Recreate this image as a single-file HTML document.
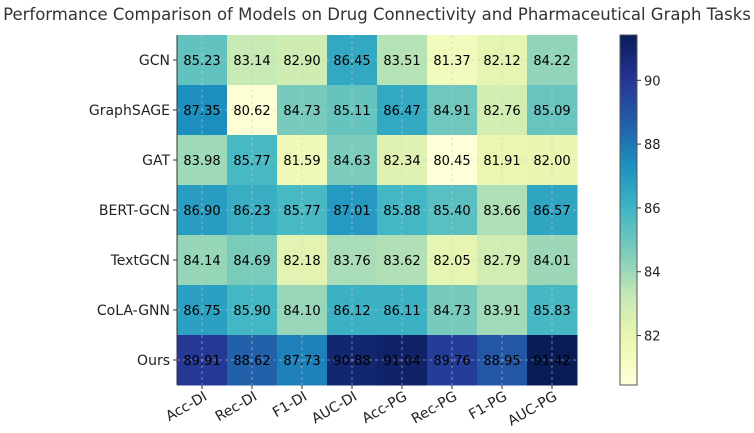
<!DOCTYPE html>
<html><head><meta charset="utf-8"><style>
body{margin:0;background:#fff;}
svg text{font-family:"DejaVu Sans","Liberation Sans",sans-serif;}
</style></head><body>
<svg id="chart" width="754" height="428" viewBox="0 0 754 428" xmlns="http://www.w3.org/2000/svg">
<defs><linearGradient id="cbg" x1="0" y1="1" x2="0" y2="0">
<stop offset="0" stop-color="#ffffd9"/><stop offset="0.125" stop-color="#edf8b1"/><stop offset="0.25" stop-color="#c7e9b4"/><stop offset="0.375" stop-color="#7fcdbb"/><stop offset="0.5" stop-color="#41b6c4"/><stop offset="0.625" stop-color="#1d91c0"/><stop offset="0.75" stop-color="#225ea8"/><stop offset="0.875" stop-color="#253494"/><stop offset="1" stop-color="#081d58"/>
</linearGradient></defs>
<text x="377" y="20" text-anchor="middle" font-size="16.5" fill="#333">Performance Comparison of Models on Drug Connectivity and Pharmaceutical Graph Tasks</text>
<g id="cells"></g><g id="grid"></g><g id="labels"></g><g id="cbar"></g>
</svg>
<script>
const models=["GCN","GraphSAGE","GAT","BERT-GCN","TextGCN","CoLA-GNN","Ours"];
const metrics=["Acc-DI","Rec-DI","F1-DI","AUC-DI","Acc-PG","Rec-PG","F1-PG","AUC-PG"];
const rowGCN=[85.23,83.14,82.90,86.45,83.51,81.37,82.12,84.22];
const rowSAGE=[87.35,80.62,84.73,85.11,86.47,84.91,82.76,85.09];
const rowGAT=[83.98,85.77,81.59,84.63,82.34,80.45,81.91,82.00];
const rowBERT=[86.90,86.23,85.77,87.01,85.88,85.40,83.66,86.57];
const rowText=[84.14,84.69,82.18,83.76,83.62,82.05,82.79,84.01];
const rowCoLA=[86.75,85.90,84.10,86.12,86.11,84.73,83.91,85.83];
const rowOurs=[89.91,88.62,87.73,90.88,91.04,89.76,88.95,91.42];
const cbTicks=[82,84,86,88,90];
const values=[rowGCN,rowSAGE,rowGAT,rowBERT,rowText,rowCoLA,rowOurs];
const vmin=80.45,vmax=91.42;
const L=177,T=35,W=400,H=350,cw=W/metrics.length,ch=H/models.length;
const stops=["#ffffd9","#edf8b1","#c7e9b4","#7fcdbb","#41b6c4","#1d91c0","#225ea8","#253494","#081d58"];
function hex(h){return [1,3,5].map(i=>parseInt(h.substr(i,2),16));}
function cmap(v){let t=Math.max(0,Math.min(1,(v-vmin)/(vmax-vmin)))*(stops.length-1);let i=Math.min(Math.floor(t),stops.length-2),f=t-i;const a=hex(stops[i]),b=hex(stops[i+1]);return `rgb(${a.map((x,k)=>Math.round(x+(b[k]-x)*f)).join(",")})`;}
const NS="http://www.w3.org/2000/svg";
function mk(tag,attrs,parent,txt){const e=document.createElementNS(NS,tag);for(const k in attrs)e.setAttribute(k,attrs[k]);if(txt!==undefined)e.textContent=txt;document.getElementById(parent).appendChild(e);return e;}
const xs=j=>L+j*cw, ys=i=>T+i*ch;
values.forEach((row,i)=>row.forEach((v,j)=>{
 const r=mk("rect",{x:xs(j),y:ys(i),width:cw+0.5,height:ch+0.5,fill:cmap(v)},"cells");
 
 
}));
metrics.forEach((m,j)=>{const l=mk("line",{x1:xs(j)+cw/2,x2:xs(j)+cw/2,y1:T,y2:T+H,stroke:"#ccc","stroke-dasharray":"3,3","stroke-width":0.8,opacity:0.7},"grid");
 
 });
models.forEach((m,i)=>{const l=mk("line",{x1:L,x2:L+W,y1:ys(i)+ch/2,y2:ys(i)+ch/2,stroke:"#ccc","stroke-dasharray":"3,3","stroke-width":0.8,opacity:0.7},"grid");
 
 });
values.forEach((row,i)=>row.forEach((v,j)=>{
 const t=mk("text",{x:xs(j)+cw/2,y:ys(i)+ch/2+5,"text-anchor":"middle","font-size":13,fill:"#000"},"labels",v.toFixed(2));
 
 
}));
models.forEach((m,i)=>{
 mk("line",{x1:L-4,x2:L,y1:ys(i)+ch/2,y2:ys(i)+ch/2,stroke:"#333"},"labels");
 const t=mk("text",{x:L-7,y:ys(i)+ch/2+5,"text-anchor":"end","font-size":14,fill:"#222"},"labels",m);
 
 
});
metrics.forEach((m,j)=>{
 const cx=xs(j)+cw/2;
 mk("line",{x1:cx,x2:cx,y1:T+H,y2:T+H+4,stroke:"#333"},"labels");
 const t=mk("text",{x:cx+6,y:T+H+14,"text-anchor":"end","font-size":14,fill:"#222",transform:`rotate(-30 ${cx+6} ${T+H+14})`},"labels",m);
 
 
});
mk("line",{x1:L,x2:L,y1:T,y2:T+H,stroke:"#333","stroke-width":1},"labels");
const CX=620,CW=17;
const cb=mk("rect",{x:CX,y:T,width:CW,height:H,fill:"url(#cbg)",stroke:"#555","stroke-width":1},"cbar");


const cy=v=>T+H-(v-vmin)/(vmax-vmin)*H;
cbTicks.forEach(v=>{
 mk("line",{x1:CX+CW,x2:CX+CW+4,y1:cy(v),y2:cy(v),stroke:"#333"},"cbar");
 const t=mk("text",{x:CX+CW+7,y:cy(v)+5,"font-size":13,fill:"#222"},"cbar",String(v));
 
 
});
</script>
</body></html>
